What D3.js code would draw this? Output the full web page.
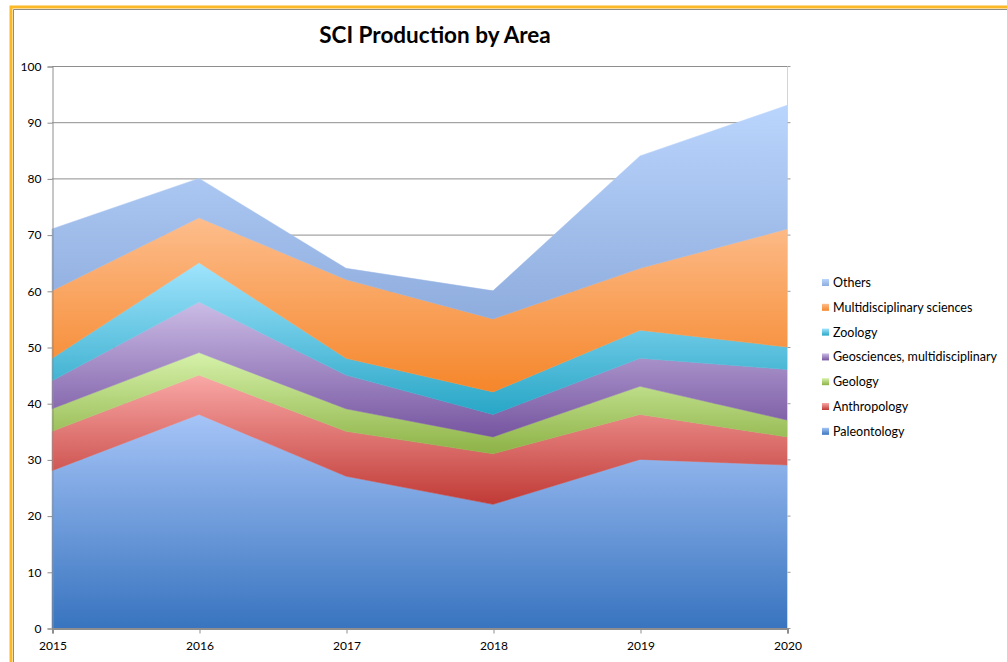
<!DOCTYPE html>
<html>
<head>
<meta charset="utf-8">
<script src="https://cdn.jsdelivr.net/npm/d3@7"></script>
<style>
  body { margin: 0; background: #fff; }
  svg { display: block; font-family: Lato, "Open Sans", sans-serif; }
</style>
</head>
<body>
<svg id="chart"></svg>
<script>
(function(){
    "use strict";

    // data
    var years = [2015, 2016, 2017, 2018, 2019, 2020];
    var paleontology = [28, 38, 27, 22, 30, 29];
    var anthropology = [7, 7, 8, 9, 8, 5];
    var geology = [4, 4, 4, 3, 5, 3];
    var geosciences = [5, 9, 6, 4, 5, 9];
    var zoology = [4, 7, 3, 4, 5, 4];
    var multidisciplinary = [12, 8, 14, 13, 11, 21];
    var others = [11, 7, 2, 5, 20, 22];
    var yTicks = [0, 10, 20, 30, 40, 50, 60, 70, 80, 90, 100];

    var series = [
        {key: "paleo", name: "Paleontology", values: paleontology, top: "#a6c4f7", bottom: "#3874bf"},
        {key: "anthro", name: "Anthropology", values: anthropology, top: "#f9a8a6", bottom: "#c03a36"},
        {key: "geol", name: "Geology", values: geology, top: "#d6f2aa", bottom: "#8db246"},
        {key: "geosci", name: "Geosciences, multidisciplinary", values: geosciences, top: "#cbbce6", bottom: "#7655a0"},
        {key: "zoo", name: "Zoology", values: zoology, top: "#a0e4fd", bottom: "#28a6c6"},
        {key: "multi", name: "Multidisciplinary sciences", values: multidisciplinary, top: "#fdbd8c", bottom: "#f5862a"},
        {key: "others", name: "Others", values: others, top: "#bad5fd", bottom: "#8eacdd"}
    ];

    var width = 1007,
        height = 662;

    var svg = d3.select("svg#chart")
        .attr("width", width)
        .attr("height", height);

    var defs = svg.append("defs");
    series.forEach(function(s) {
        var g = defs.append("linearGradient")
            .attr("id", "grad-" + s.key)
            .attr("x1", 0).attr("y1", 0).attr("x2", 0).attr("y2", 1);
        g.append("stop").attr("offset", "0%").attr("stop-color", s.top);
        g.append("stop").attr("offset", "100%").attr("stop-color", s.bottom);
    });

    // outer frame
    svg.append("rect")
        .attr("x", 11).attr("y", 7)
        .attr("width", 1020).attr("height", 680)
        .attr("fill", "none")
        .attr("stroke", "#fbb927")
        .attr("stroke-width", 3);
    svg.append("path")
        .attr("d", "M13.5,680V9.5H1010")
        .attr("fill", "none")
        .attr("stroke", "#8c8c8c")
        .attr("stroke-width", 1);

    var x = d3.scaleLinear()
        .domain([years[0], years[years.length - 1]])
        .range([52, 787]);

    var y = d3.scaleLinear()
        .domain([0, 100])
        .range([628, 66]);

    // grid
    svg.append("g")
        .selectAll("line")
        .data(yTicks.filter(function(d) { return d > 0; }))
        .enter().append("line")
        .attr("x1", x.range()[0]).attr("x2", x.range()[1])
        .attr("y1", function(d) { return y(d) + 0.5; })
        .attr("y2", function(d) { return y(d) + 0.5; })
        .attr("stroke", "#8e8e8e")
        .attr("stroke-width", 1);

    var table = years.map(function(yr, i) {
        var row = {year: yr};
        series.forEach(function(s) { row[s.key] = s.values[i]; });
        return row;
    });

    var stack = d3.stack().keys(series.map(function(s) { return s.key; }));
    var layers = stack(table);

    var area = d3.area()
        .x(function(d) { return x(d.data.year); })
        .y0(function(d) { return y(d[0]); })
        .y1(function(d) { return y(d[1]); });

    // stroke in the same gradient hides the hairline seams between layers
    svg.append("g")
        .selectAll("path")
        .data(layers)
        .enter().append("path")
        .attr("d", area)
        .attr("fill", function(d) { return "url(#grad-" + d.key + ")"; })
        .attr("stroke", function(d) { return "url(#grad-" + d.key + ")"; })
        .attr("stroke-width", 0.5)
        .attr("stroke-linejoin", "round");

    // right-hand line with ticks
    var right = svg.append("g").attr("transform", "translate(" + (x.range()[1] + 0.5) + ",0)");
    right.append("line")
        .attr("y1", y(100)).attr("y2", y(0))
        .attr("stroke", "#d4d4d4");
    right.selectAll("line.t")
        .data(yTicks)
        .enter().append("line")
        .attr("class", "t")
        .attr("x1", 0).attr("x2", 3)
        .attr("y1", function(d) { return y(d) + 0.5; })
        .attr("y2", function(d) { return y(d) + 0.5; })
        .attr("stroke", "#9a9a9a");

    // axes
    var yAxis = svg.append("g")
        .attr("transform", "translate(" + (x.range()[0] + 0.5) + ",0.5)")
        .call(d3.axisLeft(y).tickValues(yTicks).tickSize(5).tickPadding(6));
    yAxis.selectAll("path, line").attr("stroke", "#8e8e8e");
    yAxis.selectAll("text").attr("font-size", 12).attr("fill", "#000")
        .style("font-family", "Lato, sans-serif");

    var xAxis = svg.append("g")
        .attr("transform", "translate(0.5," + (y(0) + 0.5) + ")")
        .call(d3.axisBottom(x).tickValues(years).tickFormat(d3.format("d")).tickSize(5).tickPadding(8));
    xAxis.selectAll("path, line").attr("stroke", "#8e8e8e");
    xAxis.select("path.domain").attr("stroke-width", 2);
    xAxis.selectAll("text").attr("font-size", 12).attr("fill", "#000")
        .style("font-family", "Lato, sans-serif");

    // title
    svg.append("text")
        .attr("x", 435).attr("y", 43)
        .attr("text-anchor", "middle")
        .attr("font-size", 22.5)
        .attr("font-weight", "bold")
        .text("SCI Production by Area");

    // legend, top series first
    var legend = svg.append("g")
        .attr("transform", "translate(822,283)")
        .selectAll("g")
        .data(series.slice().reverse())
        .enter().append("g")
        .attr("transform", function(d, i) { return "translate(0," + (i * 24.8) + ")"; });

    legend.append("rect")
        .attr("x", 0).attr("y", -4)
        .attr("width", 7).attr("height", 7)
        .attr("fill", function(d) { return "url(#grad-" + d.key + ")"; });

    legend.append("text")
        .attr("x", 11).attr("y", 4)
        .attr("font-size", 12.5)
        .text(function(d) { return d.name; });
})();
</script>
</body>
</html>
